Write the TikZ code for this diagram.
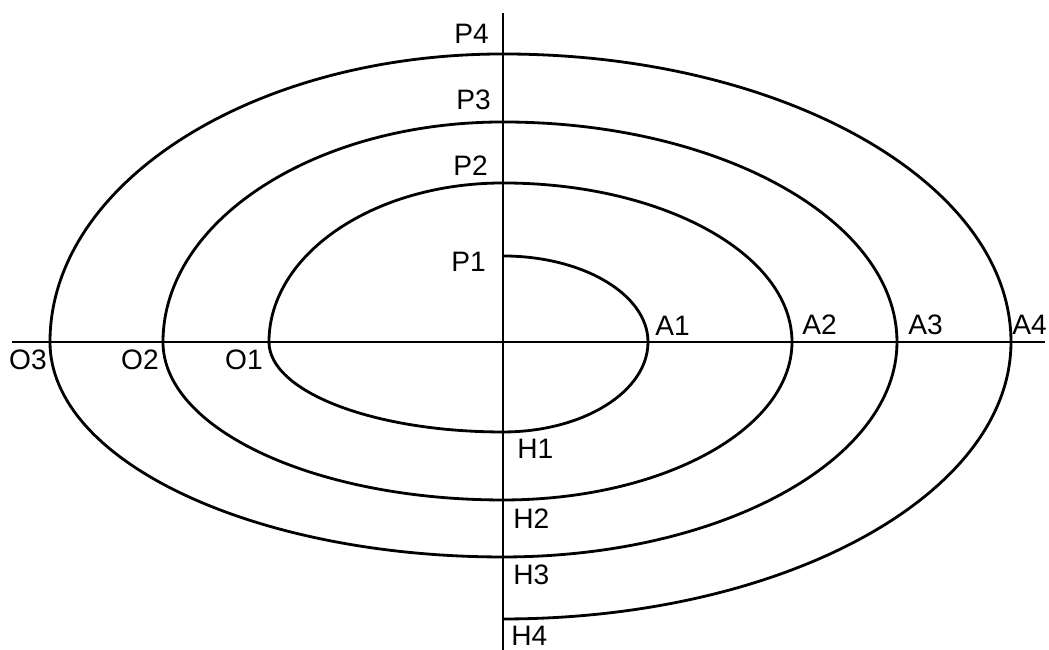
\documentclass[tikz,border=0pt]{standalone}
\usepackage{fontspec}
\setmainfont{Liberation Sans}
\begin{document}
\begin{tikzpicture}[scale=0.02,
        lbl/.style={inner sep=0pt, font=\fontsize{16}{19}\selectfont},
        axis/.style={line width=1.4pt},
        spiral/.style={line width=1.6pt, line join=round}]
        \useasboundingbox (-503, -308) rectangle (546, 342);
        \coordinate (top) at (0, 329);
        \coordinate (bottom) at (0, -308);
        \coordinate (left) at (-491, 0);
        \coordinate (right) at (542, 0);
        \coordinate (P1) at (0, 86);
        \coordinate (P2) at (0, 159);
        \coordinate (P3) at (0, 220);
        \coordinate (P4) at (0, 288);
        \draw[axis] (left) -- (right);
        \draw[axis] (top) -- (bottom);
        \draw[spiral] (P1)
            arc[start angle=90, end angle=0, x radius=145, y radius=86]
            arc[start angle=0, end angle=-90, x radius=145, y radius=90]
            arc[start angle=-90, end angle=-180, x radius=234, y radius=90]
            arc[start angle=180, end angle=90, x radius=234, y radius=159]
            arc[start angle=90, end angle=0, x radius=289, y radius=159]
            arc[start angle=0, end angle=-90, x radius=289, y radius=158]
            arc[start angle=-90, end angle=-180, x radius=340, y radius=158]
            arc[start angle=180, end angle=90, x radius=340, y radius=220]
            arc[start angle=90, end angle=0, x radius=394, y radius=220]
            arc[start angle=0, end angle=-90, x radius=394, y radius=215]
            arc[start angle=-90, end angle=-180, x radius=453, y radius=215]
            arc[start angle=180, end angle=90, x radius=453, y radius=288]
            arc[start angle=90, end angle=0, x radius=508, y radius=288]
            arc[start angle=0, end angle=-90, x radius=508, y radius=277];
        \node[lbl, anchor=east] (p1) at (-17, 80) {P1};
        \node[lbl, anchor=east] (p2) at (-15, 176) {P2};
        \node[lbl, anchor=east] (p3) at (-12, 242) {P3};
        \node[lbl, anchor=east] (p4) at (-14, 308) {P4};
        \node[lbl, anchor=west] (a1) at (152, 16) {A1};
        \node[lbl, anchor=west] (a2) at (299, 17) {A2};
        \node[lbl, anchor=west] (a3) at (405, 17) {A3};
        \node[lbl, anchor=west] (a4) at (509, 17) {A4};
        \node[lbl, anchor=east] (o1) at (-240, -18) {O1};
        \node[lbl, anchor=east] (o2) at (-344, -18) {O2};
        \node[lbl, anchor=east] (o3) at (-456, -18) {O3};
        \node[lbl, anchor=west] (h1) at (14, -107) {H1};
        \node[lbl, anchor=west] (h2) at (10, -177) {H2};
        \node[lbl, anchor=west] (h3) at (10, -233) {H3};
        \node[lbl, anchor=west] (h4) at (8, -294) {H4};
    \end{tikzpicture}
\end{document}
